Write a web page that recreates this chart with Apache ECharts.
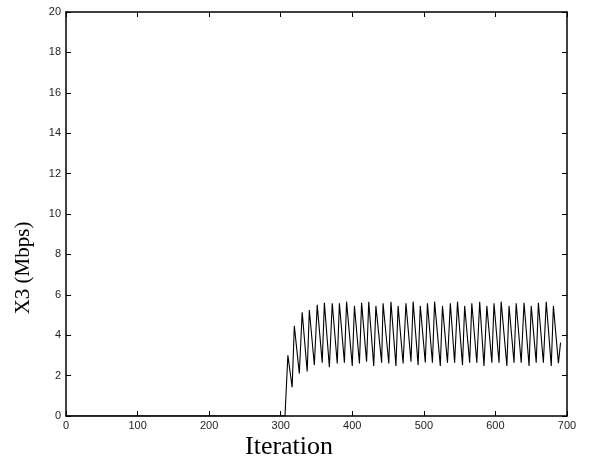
<!DOCTYPE html>
<html>
<head>
<meta charset="utf-8">
<script src="https://cdn.jsdelivr.net/npm/echarts@6/dist/echarts.min.js"></script>
<style>
html,body{margin:0;padding:0;background:#fff;}
#chart{width:592px;height:463px;}
</style>
</head>
<body>
<div id="chart"></div>
<script>
const xTicks = [0,100,200,300,400,500,600,700];
const yTicks = [0,2,4,6,8,10,12,14,16,18,20];
const iterations = [0,306,310,316,319,326,330,337,340,347,351,358,361,368,372,379,382,389,392,400,403,410,413,420,423,430,433,441,443,451,454,461,464,471,475,482,485,492,495,502,505,512,515,523,526,533,537,543,547,554,557,564,567,574,578,584,588,595,598,605,608,616,619,626,629,636,640,647,650,657,660,667,671,678,681,688,691];
const x3Mbps = [0,0,3.0,1.42,4.46,2.1,5.13,2.2,5.25,2.52,5.5,2.64,5.6,2.41,5.58,2.6,5.58,2.64,5.66,2.48,5.45,2.6,5.6,2.69,5.66,2.48,5.45,2.64,5.58,2.6,5.66,2.48,5.45,2.6,5.58,2.69,5.66,2.52,5.45,2.65,5.58,2.64,5.66,2.48,5.45,2.64,5.58,2.64,5.66,2.52,5.45,2.64,5.58,2.64,5.66,2.48,5.45,2.64,5.58,2.64,5.66,2.48,5.45,2.64,5.58,2.64,5.61,2.48,5.45,2.64,5.61,2.64,5.66,2.48,5.45,2.61,3.63];

const data = iterations.map((x,i)=>[x,x3Mbps[i]]);
const chart = echarts.init(document.getElementById('chart'));
const axisLine = {show:true, onZero:false, lineStyle:{color:'#000', width:1.5}};
const tick = {show:true, inside:true, length:5, lineStyle:{color:'#000', width:1}};
const lbl = {color:'#222', fontFamily:'Liberation Sans, Arial, sans-serif', fontSize:11};
chart.setOption({
  animation:false,
  backgroundColor:'#fff',
  grid:{left:66, right:25, top:12, bottom:47, containLabel:false},
  xAxis:[
    {type:'value', min:xTicks[0], max:xTicks[xTicks.length-1], interval:100, position:'bottom',
     axisLine:axisLine, axisTick:tick, splitLine:{show:false},
     axisLabel:Object.assign({margin:4}, lbl)},
    {type:'value', min:xTicks[0], max:xTicks[xTicks.length-1], interval:100, position:'top',
     axisLine:axisLine, axisTick:tick, splitLine:{show:false}, axisLabel:{show:false}}
  ],
  yAxis:[
    {type:'value', min:yTicks[0], max:yTicks[yTicks.length-1], interval:2, position:'left',
     axisLine:axisLine, axisTick:tick, splitLine:{show:false},
     axisLabel:Object.assign({margin:5}, lbl)},
    {type:'value', min:yTicks[0], max:yTicks[yTicks.length-1], interval:2, position:'right',
     axisLine:axisLine, axisTick:tick, splitLine:{show:false}, axisLabel:{show:false}}
  ],
  graphic:[
    {type:'text', left:245, top:434, style:{text:'Iteration', font:'26px "Liberation Serif", "Times New Roman", serif', fill:'#000'}},
    {type:'text', x:23, y:268, rotation:Math.PI/2, style:{text:'X3 (Mbps)', font:'21px "Liberation Serif", "Times New Roman", serif', fill:'#000', align:'center', verticalAlign:'middle'}}
  ],
  series:[{
    type:'line', data:data, xAxisIndex:0, yAxisIndex:0,
    showSymbol:false, symbol:'none',
    lineStyle:{color:'#000', width:1.1}
  }]
});
</script>
</body>
</html>
